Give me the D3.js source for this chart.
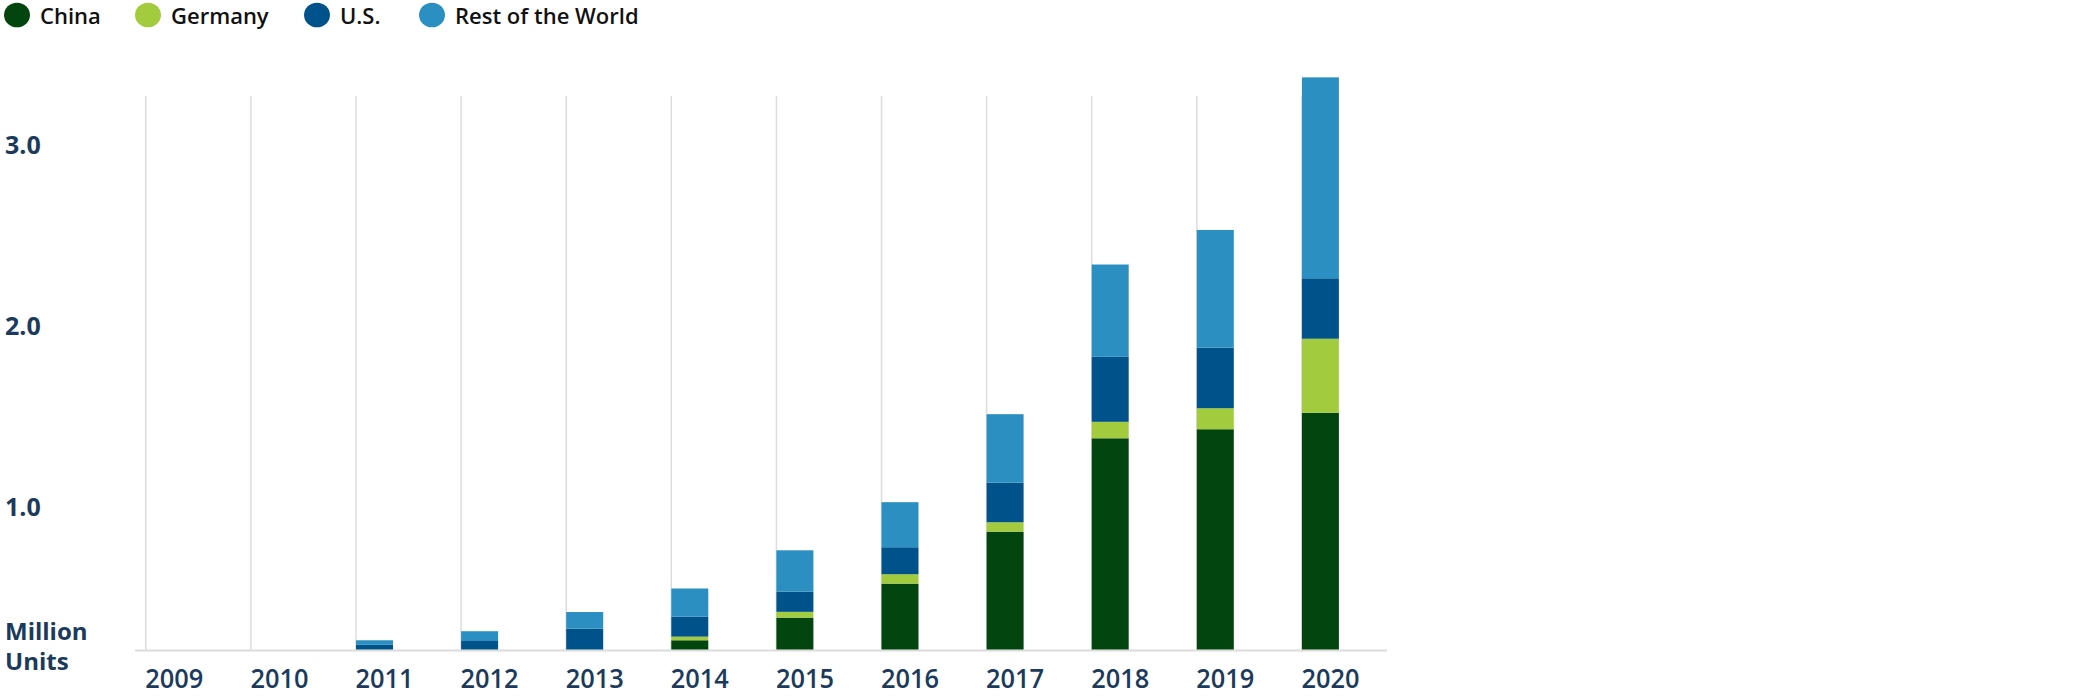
<!DOCTYPE html>
<html lang="en">
<head>
  <meta charset="UTF-8">
  <title>EV sales by region</title>
  <script src="https://d3js.org/d3.v7.min.js"></script>
  <style>
    body {
      margin: 0;
      font-family: "Open Sans", Arial, sans-serif;
      background: #fff;
    }
    .legend text {
      font-size: 22px;
      font-weight: 600;
      fill: #111;
    }
    .ylab, .xlab, .unit {
      fill: #1b3a5c;
    }
  </style>
</head>
<body>
  <div id="chart"></div>

  <script>
    const years = [2009, 2010, 2011, 2012, 2013, 2014, 2015, 2016, 2017, 2018, 2019, 2020];
    const series = ["China", "Germany", "U.S.", "Rest of the World"];
    const china = [0, 0, 0, 0, 0, 0.051, 0.176, 0.364, 0.651, 1.167, 1.217, 1.308];
    const germany = [0, 0, 0, 0, 0, 0.020, 0.032, 0.052, 0.052, 0.091, 0.116, 0.409];
    const us = [0, 0, 0.026, 0.047, 0.115, 0.111, 0.112, 0.149, 0.219, 0.359, 0.335, 0.334];
    const rest = [0, 0, 0.025, 0.054, 0.092, 0.155, 0.228, 0.249, 0.378, 0.510, 0.650, 1.110];
    const yTicks = [1, 2, 3];
    const colors = ["#03450f", "#a2cc3e", "#00528a", "#2b8fc2"];

    const W = 2083, H = 696;
    const baseY = 649.5;

    const data = years.map((yr, i) => ({
      year: yr,
      "China": china[i],
      "Germany": germany[i],
      "U.S.": us[i],
      "Rest of the World": rest[i]
    }));

    const svg = d3.select("#chart")
                  .append("svg")
                  .attr("width", W)
                  .attr("height", H);

    const x = d3.scaleBand()
                .domain(years)
                .range([145.8, 1338.9])
                .paddingInner(0.648)
                .paddingOuter(0);

    const y = d3.scaleLinear()
                .domain([0, 3.2])
                .range([baseY, baseY - 3.2 * 181]);

    const color = d3.scaleOrdinal().domain(series).range(colors);

    // vertical gridlines at the left edge of each bar slot
    svg.append("g")
       .selectAll("line")
       .data(years)
       .enter()
       .append("line")
       .attr("x1", d => x(d))
       .attr("x2", d => x(d))
       .attr("y1", 96)
       .attr("y2", baseY)
       .attr("stroke", "#dcdcdc")
       .attr("stroke-width", 1.5);

    // baseline
    svg.append("line")
       .attr("x1", 135)
       .attr("x2", 1387)
       .attr("y1", baseY + 1)
       .attr("y2", baseY + 1)
       .attr("stroke", "#dcdcdc")
       .attr("stroke-width", 2);

    const stacked = d3.stack().keys(series)(data);

    svg.append("g")
       .selectAll("g")
       .data(stacked)
       .enter()
       .append("g")
       .attr("fill", d => color(d.key))
       .selectAll("rect")
       .data(d => d)
       .enter()
       .append("rect")
       .attr("x", d => x(d.data.year))
       .attr("y", d => y(d[1]))
       .attr("width", x.bandwidth())
       .attr("height", d => y(d[0]) - y(d[1]));

    // x labels
    svg.append("g")
       .selectAll("text")
       .data(years)
       .enter()
       .append("text")
       .attr("class", "xlab")
       .attr("x", d => x(d) + x.bandwidth() / 2 + 10)
       .attr("y", 688)
       .attr("text-anchor", "middle")
       .attr("textLength", 58)
       .attr("lengthAdjust", "spacingAndGlyphs")
       .style("font-size", "27px")
       .style("font-weight", 600)
       .text(d => d);

    // y labels (drawn a little below their value level, as in the source)
    svg.append("g")
       .selectAll("text")
       .data(yTicks)
       .enter()
       .append("text")
       .attr("class", "ylab")
       .attr("x", 5)
       .attr("y", d => y(d) + 47)
       .style("font-size", "25px")
       .style("font-weight", 700)
       .text(d => d.toFixed(1));

    const unit = svg.append("text")
                    .attr("class", "unit")
                    .attr("x", 5)
                    .attr("y", 640)
                    .style("font-size", "24px")
                    .style("font-weight", 700);
    unit.append("tspan").attr("x", 5).text("Million");
    unit.append("tspan").attr("x", 5).attr("dy", 30).text("Units");

    // legend
    const legendX = [17, 148, 317, 432];
    const legend = svg.append("g").attr("class", "legend");
    const item = legend.selectAll("g")
                       .data(series)
                       .enter()
                       .append("g")
                       .attr("transform", (d, i) => `translate(${legendX[i]},15)`);
    item.append("ellipse")
        .attr("rx", 13)
        .attr("ry", 12.3)
        .attr("fill", d => color(d));
    item.append("text")
        .attr("x", 23)
        .attr("y", 9)
        .text(d => d);
  </script>
</body>
</html>
